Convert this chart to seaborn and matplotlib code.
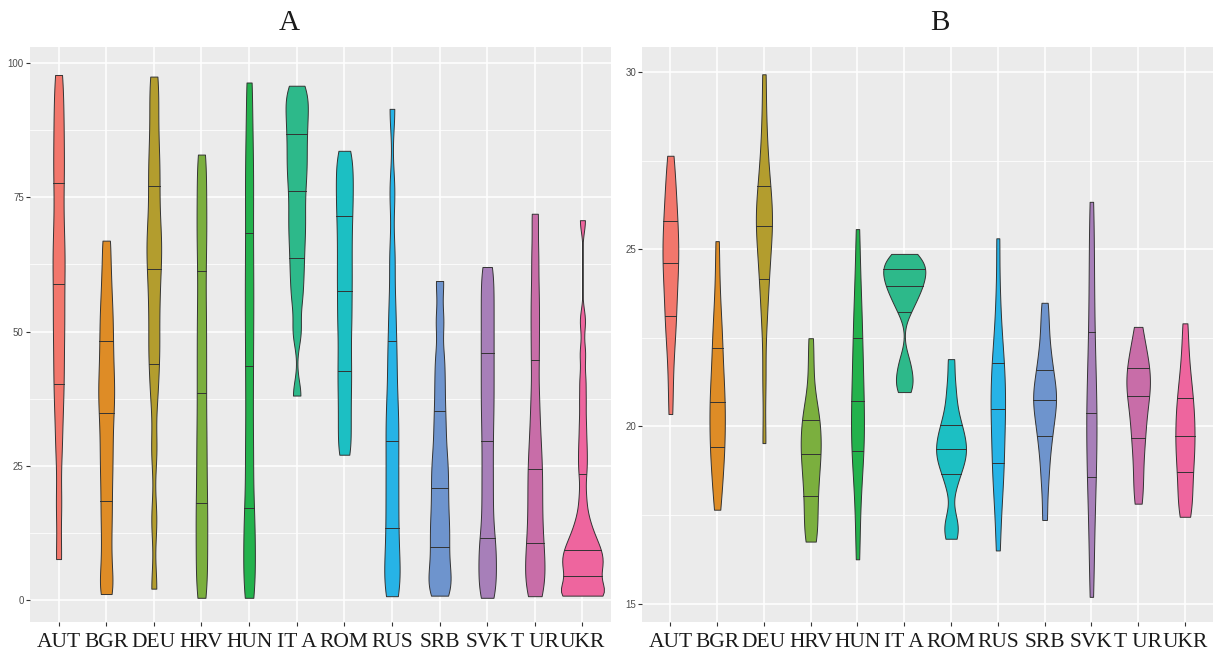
import numpy as np
import pandas as pd
import matplotlib
matplotlib.use("Agg")
import matplotlib.pyplot as plt
import seaborn as sns
from matplotlib.ticker import MultipleLocator

countries = ["AUT", "BGR", "DEU", "HRV", "HUN", "ITA",
             "ROM", "RUS", "SRB", "SVK", "TUR", "UKR"]
tick_labels = ["AUT", "BGR", "DEU", "HRV", "HUN", "IT A",
               "ROM", "RUS", "SRB", "SVK", "T UR", "UKR"]
colors = ["#F2776C", "#DE8C26", "#B39D2E", "#7BAF3E", "#23B24C", "#2DB98A",
          "#1CBFC3", "#27B3E6", "#6E94CD", "#A77FB9", "#C86DA8", "#EE659E"]

# panel A observations
aut_a = [7.7, 18, 28, 35, 40.3, 45, 50, 54, 58.9, 63, 67, 72, 77.6, 82, 87, 92, 97.7]
bgr_a = [1.2, 4, 9, 14, 18.5, 23, 27, 31, 34.8, 38, 41, 44.5, 48.2, 52, 56, 61, 66.9]
deu_a = [2.2, 15, 28, 38, 43.9, 48, 53, 57.5, 61.7, 65, 68, 72, 77.0, 81, 86, 92, 97.4]
hrv_a = [0.5, 5, 9.5, 14, 18.2, 23, 28, 33, 38.6, 44, 49.5, 55, 61.3, 67, 72, 77.5, 82.9]
hun_a = [0.5, 4, 8.5, 13, 17.2, 24, 30, 37, 43.6, 50, 56, 62, 68.4, 75, 81, 88, 96.3]
ita_a = [38.1, 50, 56, 60, 63.6, 67, 70, 73, 76.2, 79, 81.5, 84, 86.7, 89, 91.5, 93.5, 95.7]
rom_a = [27.1, 31, 35, 39, 42.7, 46.5, 50.5, 54, 57.6, 61, 64.5, 68, 71.4, 74.5, 77.5, 80.5, 83.6]
rus_a = [0.8, 3, 6, 9.5, 13.5, 17.5, 21.5, 25.5, 29.7, 33.5, 37.5, 43, 48.3, 55, 64, 76, 91.4]
srb_a = [0.9, 2.5, 4.5, 7, 9.9, 12.5, 15, 18, 21.0, 24, 27, 31, 35.2, 40, 45, 52, 59.4]
svk_a = [0.5, 3, 6, 9, 11.6, 16, 20.5, 25, 29.6, 34, 38, 42, 46.0, 50, 54, 58, 62.0]
tur_a = [0.8, 3, 5.5, 8, 10.7, 14, 17.5, 21, 24.4, 28, 32.5, 38, 44.8, 51, 57, 64, 71.9]
ukr_a = [0.9, 0.92, 0.95, 1.0, 1.1, 1.35, 1.9, 3.0, 4.5,
         5.1, 5.7, 6.3, 6.9, 7.5, 8.1, 8.7, 9.3,
         10.0, 10.8, 11.7, 12.8, 14.2, 16.2, 19.5, 23.6,
         26.5, 29.5, 33, 37, 41, 46, 52, 70.7]

# panel B observations
aut_b = [20.35, 21.4, 22.3, 22.8, 23.12, 23.6, 24.0, 24.35, 24.62, 24.9, 25.2, 25.5,
         25.81, 26.2, 26.6, 27.1, 27.64]
bgr_b = [17.65, 18.2, 18.7, 19.1, 19.41, 19.7, 20.0, 20.35, 20.7, 20.95, 21.2, 21.7,
         22.2, 22.6, 23.1, 24.0, 25.23]
deu_b = [19.53, 21.3, 22.8, 23.6, 24.15, 24.6, 25.0, 25.35, 25.66, 25.9, 26.1, 26.4,
         26.8, 27.2, 27.8, 28.7, 29.94]
hrv_b = [16.75, 16.9, 17.3, 17.7, 18.05, 18.4, 18.7, 19.0, 19.22, 19.45, 19.65, 19.9,
         20.19, 20.4, 20.7, 21.6, 22.49]
hun_b = [16.25, 17.4, 18.3, 18.9, 19.3, 19.6, 19.95, 20.3, 20.72, 21.1, 21.5, 22.0,
         22.49, 23.0, 23.6, 24.4, 25.57]
ita_b = [20.97, 21.15, 21.35, 21.6, 21.9, 23.22, 23.45, 23.62, 23.76, 23.88, 23.97,
         24.08, 24.18, 24.27, 24.36, 24.44, 24.53, 24.62, 24.7, 24.79, 24.87]
rom_b = [16.83, 17.1, 17.4, 18.3, 18.66, 18.9, 19.05, 19.2, 19.36, 19.5, 19.65, 19.85,
         20.03, 20.3, 20.7, 21.2, 21.9]
rus_b = [16.5, 17.5, 18.2, 18.6, 18.98, 19.4, 19.8, 20.15, 20.48, 20.8, 21.1, 21.45,
         21.8, 22.2, 22.8, 23.8, 25.31]
srb_b = [17.36, 18.3, 18.9, 19.4, 19.74, 20.05, 20.3, 20.55, 20.74, 20.9, 21.05, 21.3,
         21.6, 21.9, 22.3, 22.9, 23.49]
svk_b = [15.19, 16.2, 17.2, 17.9, 18.56, 19.0, 19.5, 19.95, 20.39, 20.8, 21.3, 21.9,
         22.67, 23.5, 24.4, 25.4, 26.34]
tur_b = [17.82, 18.3, 18.8, 19.3, 19.66, 20.0, 20.3, 20.6, 20.86, 21.05, 21.2, 21.35,
         21.64, 21.8, 22.0, 22.35, 22.81]
ukr_b = [17.45, 17.65, 18.0, 18.35, 18.7, 19.0, 19.25, 19.5, 19.74, 20.0, 20.25, 20.5,
         20.8, 21.1, 21.5, 22.1, 22.91]

groups_a = [aut_a, bgr_a, deu_a, hrv_a, hun_a, ita_a, rom_a, rus_a, srb_a, svk_a, tur_a, ukr_a]
groups_b = [aut_b, bgr_b, deu_b, hrv_b, hun_b, ita_b, rom_b, rus_b, srb_b, svk_b, tur_b, ukr_b]


def nrd0(kde):
    # R's default bandwidth (bw.nrd0) expressed as a scipy factor
    x = kde.dataset[0]
    sd = np.std(x, ddof=1)
    q75, q25 = np.percentile(x, [75, 25])
    return 0.9 * min(sd, (q75 - q25) / 1.34) / sd * len(x) ** -0.2


def long_frame(groups):
    rows = []
    for c, vals in zip(countries, groups):
        rows += [(c, v) for v in vals]
    return pd.DataFrame(rows, columns=["country", "value"])


def panel(ax, df, title, ylim, major, bw_adjust, title_x):
    sns.violinplot(data=df, x="country", y="value", hue="country",
                   order=countries, hue_order=countries, palette=colors,
                   legend=False, cut=0, width=0.9, inner="quart",
                   density_norm="area", common_norm=True,
                   bw_method=nrd0, bw_adjust=bw_adjust, saturation=1,
                   linewidth=0.7, linecolor="#333333", ax=ax)
    for ln in ax.lines:
        ln.set_linestyle("-")
    ax.set_facecolor("#EBEBEB")
    ax.set_xlim(-0.6, 11.6)
    ax.set_ylim(*ylim)
    ax.yaxis.set_major_locator(MultipleLocator(major))
    ax.yaxis.set_minor_locator(MultipleLocator(major / 2))
    ax.grid(which="major", color="white", lw=1.1)
    ax.yaxis.grid(which="minor", color="white", lw=0.55)
    ax.set_axisbelow(True)
    for s in ax.spines.values():
        s.set_visible(False)
    ax.tick_params(axis="both", which="major", length=3, color="#333333")
    ax.tick_params(axis="y", which="minor", length=0)
    ax.tick_params(axis="y", labelsize=7, labelcolor="#4D4D4D", pad=1.5)
    ax.set_xticks(range(len(countries)))
    ax.set_xticklabels(tick_labels, fontsize=15.5, color="#1A1A1A",
                       family="Liberation Serif")
    ax.tick_params(axis="x", pad=5)
    ax.set_xlabel("")
    ax.set_ylabel("")
    ax.set_title(title, x=title_x, fontsize=21, family="Liberation Serif",
                 color="#1A1A1A", pad=12)


plt.rcParams["font.family"] = ["Liberation Sans", "DejaVu Sans"]
fig = plt.figure(figsize=(12.28, 6.62), dpi=100)
ax_a = fig.add_axes([30 / 1228, 40 / 662, 581 / 1228, 575 / 662])
ax_b = fig.add_axes([642.3 / 1228, 40 / 662, 570.7 / 1228, 575 / 662])

panel(ax_a, long_frame(groups_a), "A", (-4.0, 102.9), 25, 0.33, 0.447)
panel(ax_b, long_frame(groups_b), "B", (14.48, 30.71), 5, 0.7, 0.522)

fig.savefig("out.png", dpi=100)
